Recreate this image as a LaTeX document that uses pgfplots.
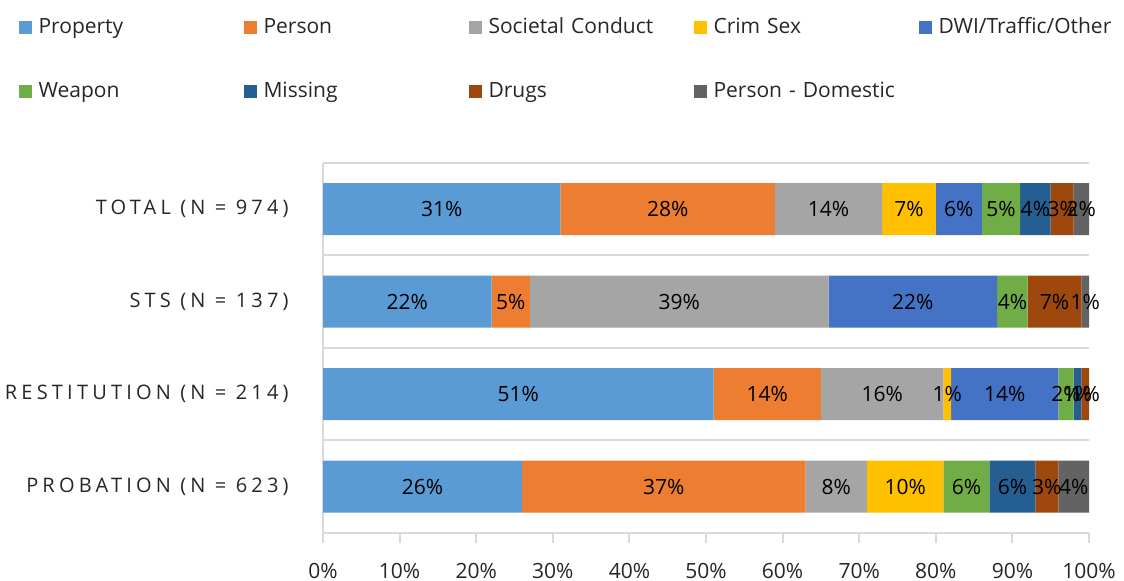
\documentclass[border=0pt]{standalone}
\usepackage{fontspec}
\setmainfont{Open Sans}
\newfontfamily\spaced[LetterSpace=21]{Open Sans}
\usepackage{pgfplots}
\pgfplotsset{compat=1.18}
\definecolor{cprop}{HTML}{5B9BD5}
\definecolor{cpers}{HTML}{ED7D31}
\definecolor{csoc}{HTML}{A5A5A5}
\definecolor{csex}{HTML}{FFC000}
\definecolor{cdwi}{HTML}{4472C4}
\definecolor{cweap}{HTML}{70AD47}
\definecolor{cmiss}{HTML}{255E91}
\definecolor{cdrug}{HTML}{9E480E}
\definecolor{cdom}{HTML}{636363}
\definecolor{gridc}{HTML}{D9D9D9}
\definecolor{txt}{HTML}{262626}
\newcommand\chartfont{\fontsize{10.5}{12}\selectfont}
\begin{document}
\begin{tikzpicture}
\useasboundingbox (0,0) rectangle (562pt,290.5pt);
\begin{axis}[
  at={(161.5pt,24pt)}, anchor=south west,
  scale only axis, width=383pt, height=185pt,
  xbar stacked, bar width=26pt,
  xmin=0, xmax=100, ymin=-0.5, ymax=3.5,
  /pgf/number format/assume math mode=true,
  xtick={0,10,...,100},
  xticklabel={\pgfmathprintnumber{\tick}\%},
  xticklabel style={font=\chartfont, text=txt, anchor=base, yshift=-18pt},
  tick align=outside, major tick length=5pt,
  xtick style={gridc, line width=1pt},
  ytick={0,1,2,3},
  yticklabels={PROBATION (N = 623), RESTITUTION (N = 214), STS (N = 137), TOTAL (N = 974)},
  yticklabel style={font=\spaced\fontsize{10}{12}\selectfont, text=txt, anchor=east, inner sep=0pt, xshift=-12pt},
  ytick style={draw=none},
  minor ytick={-0.5,0.5,1.5,2.5,3.5},
  yminorgrids, minor tick length=0pt,
  minor grid style={gridc, line width=1pt},
  axis x line*=bottom, axis y line*=left,
  axis line style={gridc, line width=1pt, -},
  point meta=rawx,
  nodes near coords={\pgfmathfloatifflags{\pgfplotspointmeta}{0}{}{\pgfmathprintnumber{\pgfplotspointmeta}\%}},
  every node near coord/.append style={anchor=center, font=\chartfont, text=black},
  legend columns=5,
  legend image code/.code={\fill[#1] (0pt,-3.25pt) rectangle (6.5pt,3.25pt);},
  legend style={draw=none, fill=none, at={(axis description cs:-0.398,1.395)}, anchor=north west,
    inner sep=0pt, font=\chartfont, text=txt, row sep=22pt,
    /tikz/every odd column/.append style={column sep=3.5pt},
    /tikz/every even column/.append style={text width=102.5pt},
    nodes={inner sep=0pt, text height=8pt, text depth=2pt}},
]
\addplot[fill=cprop, draw=none] coordinates {(26,0) (51,1) (22,2) (31,3)};
\addplot[fill=cpers, draw=none] coordinates {(37,0) (14,1) (5,2) (28,3)};
\addplot[fill=csoc, draw=none] coordinates {(8,0) (16,1) (39,2) (14,3)};
\addplot[fill=csex, draw=none] coordinates {(10,0) (1,1) (0,2) (7,3)};
\addplot[fill=cdwi, draw=none] coordinates {(0,0) (14,1) (22,2) (6,3)};
\addplot[fill=cweap, draw=none] coordinates {(6,0) (2,1) (4,2) (5,3)};
\addplot[fill=cmiss, draw=none] coordinates {(6,0) (1,1) (0,2) (4,3)};
\addplot[fill=cdrug, draw=none] coordinates {(3,0) (1,1) (7,2) (3,3)};
\addplot[fill=cdom, draw=none] coordinates {(4,0) (0,1) (1,2) (2,3)};
\legend{Property, Person, Societal Conduct, Crim Sex, DWI/Traffic/Other, Weapon, Missing, Drugs, Person - Domestic}
\end{axis}
\end{tikzpicture}
\end{document}
